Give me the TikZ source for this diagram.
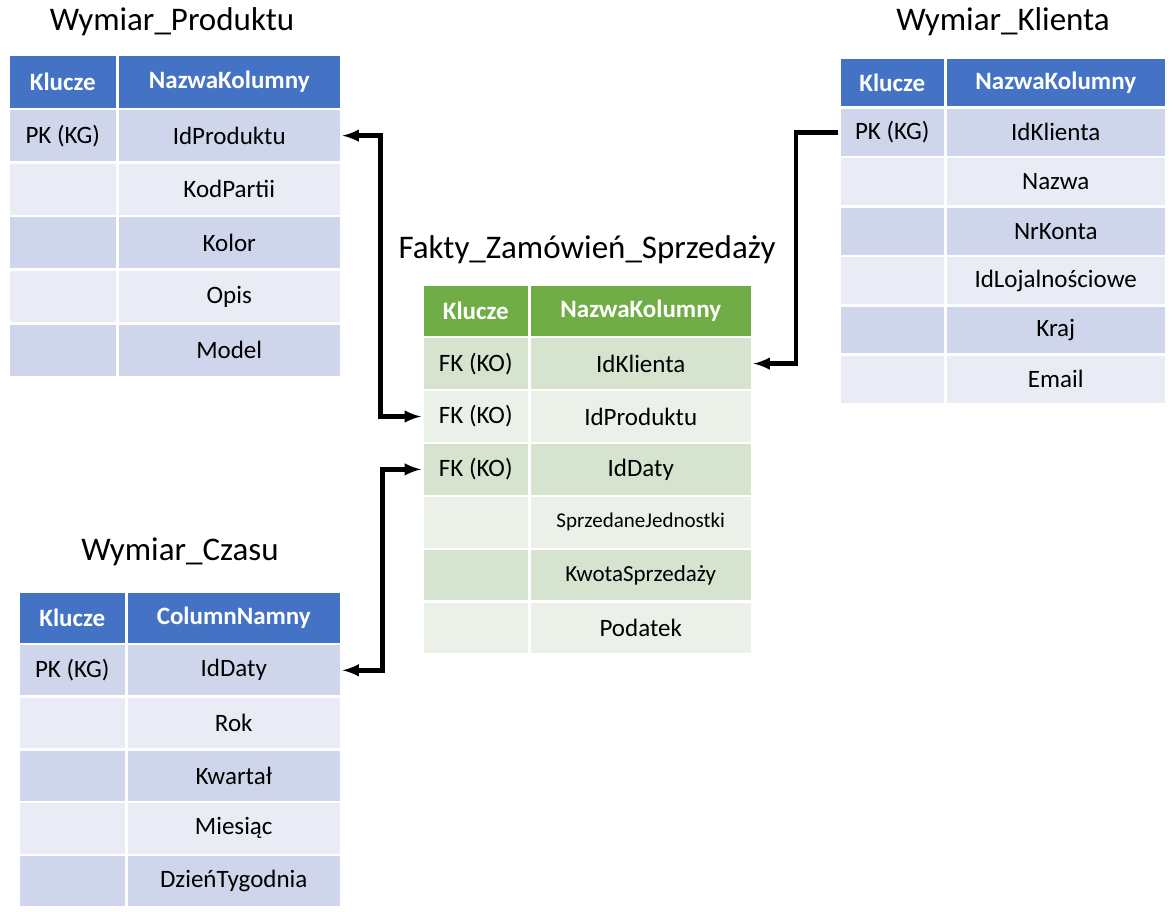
\documentclass[tikz,border=0pt]{standalone}
\usepackage{fontspec}
\setmainfont{Carlito}
\usetikzlibrary{positioning}
\definecolor{bhead}{HTML}{4472C4}
\definecolor{bjeden}{HTML}{CFD5EA}
\definecolor{bdwa}{HTML}{E9EBF5}
\definecolor{ghead}{HTML}{70AD47}
\definecolor{gjeden}{HTML}{D5E3CF}
\definecolor{gdwa}{HTML}{EBF1E9}
% #1 prefix, #2 x, #3 y, #4 key width, #5 name width, #6 row height, #7 colours, #8 rows
\newcommand{\tabela}[8]{%
  \foreach \k/\n [count=\i from 0] in {#8} {
    \pgfmathtruncatemacro{\r}{mod(\i,2)}
    \ifnum\i=0
      \node[cell,head,fill=#7head,minimum width=#4,minimum height=#6] (#1\i k) at (#2,#3) {\k};
      \node[cell,head,fill=#7head,minimum width=#5,minimum height=#6] (#1\i n) at ($(#2,#3)+(#4,0)$) {\n};
    \else
      \ifnum\r=1 \def\kol{#7jeden}\else \def\kol{#7dwa}\fi
      \node[cell,fill=\kol,minimum width=#4,minimum height=#6] (#1\i k) at ($(#2,#3)+(0,\i*#6)$) {\k};
      \node[cell,fill=\kol,minimum width=#5,minimum height=#6] (#1\i n) at ($(#2,#3)+(#4,\i*#6)$) {\n};
    \fi
  }
}
\usetikzlibrary{calc}
\begin{document}
\begin{tikzpicture}
    [
    x=1pt,y=-1pt,
    cell/.style={draw=white,line width=2.5pt,anchor=north west,inner sep=0pt,font=\fontsize{25}{28}\selectfont},
    head/.style={text=white,font=\fontsize{25}{28}\selectfont\bfseries},
    title/.style={font=\fontsize{33}{38}\selectfont},
    conn/.style={line width=4.5pt,black}
    ]
    \useasboundingbox (0,0) rectangle (1173,912);
    \fill[white] (0,0) rectangle (1173,912);

    \node (tp) at (172,22) [title] {Wymiar\_Produktu};
    \tabela{p}{7}{54}{109pt}{224pt}{53.6}{b}{Klucze/NazwaKolumny, PK (KG)/IdProduktu, {}/KodPartii, {}/Kolor, {}/Opis, {}/Model}

    \node (tk) at (1003,22) [title] {Wymiar\_Klienta};
    \tabela{k}{838}{57}{106pt}{221pt}{49.4}{b}{Klucze/NazwaKolumny, PK (KG)/IdKlienta, {}/Nazwa, {}/NrKonta, {}/IdLojalnościowe, {}/Kraj, {}/Email}

    \node (tf) at (587,250) [title] {Fakty\_Zamówień\_Sprzedaży};
    \tabela{f}{421}{283}{107pt}{223pt}{52.9}{g}{Klucze/NazwaKolumny, FK (KO)/IdKlienta, FK (KO)/IdProduktu, FK (KO)/IdDaty, {}/{\fontsize{21}{24}\selectfont SprzedaneJednostki}, {}/{\fontsize{23}{26}\selectfont KwotaSprzedaży}, {}/Podatek}

    \node (tc) at (180,552) [title] {Wymiar\_Czasu};
    \tabela{c}{17}{590}{108pt}{215pt}{52.7}{b}{Klucze/ColumnNamny, PK (KG)/IdDaty, {}/Rok, {}/Kwartał, {}/Miesiąc, {}/DzieńTygodnia}

    \draw [conn,latex-latex] (p1n.east) -- ++(38,0) |- (f2k.west);
    \draw [conn,-latex] (k1k.west) -- ++(-42,0) |- (f1n.east);
    \draw [conn,latex-latex] (c1n.east) -- ++(40,0) |- (f3k.west);
  \end{tikzpicture}
\end{document}
